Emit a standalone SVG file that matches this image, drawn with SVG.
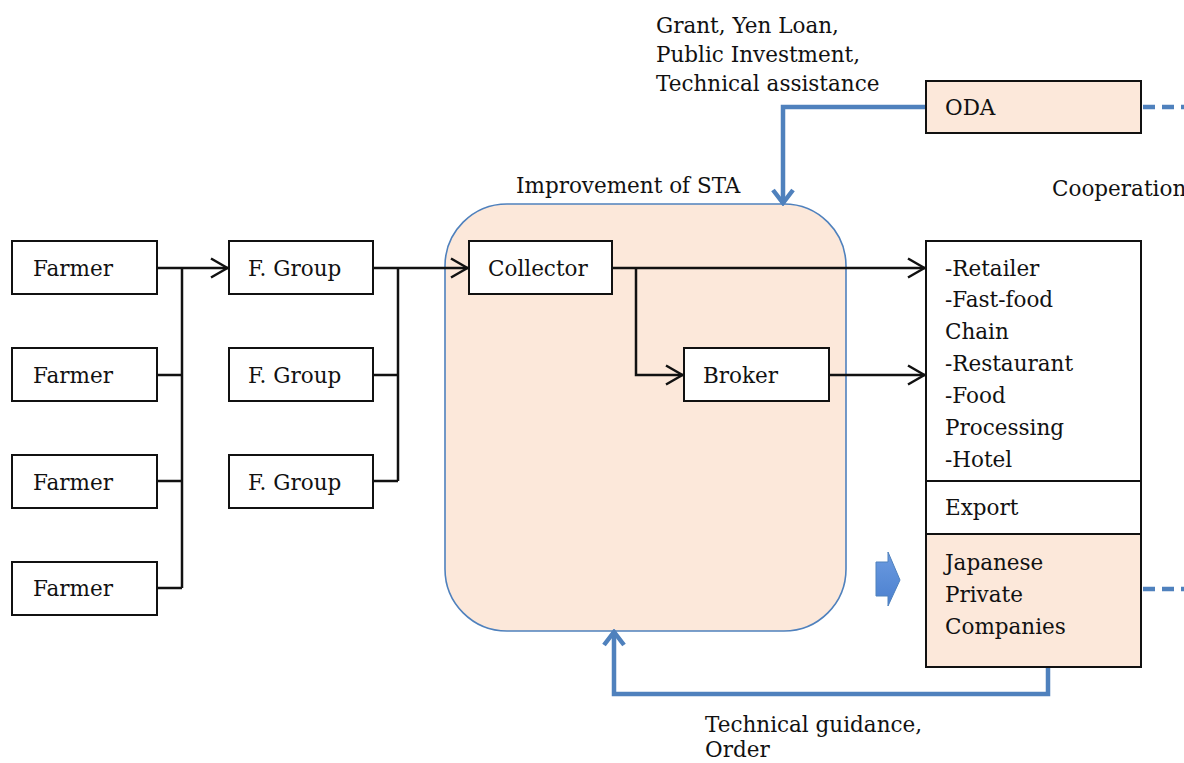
<svg xmlns="http://www.w3.org/2000/svg" width="1184" height="763" viewBox="0 0 1184 763">
  <defs>
    <style>
      text { font-family: "DejaVu Serif", "Liberation Serif", serif; font-size: 21.5px; fill: #111; }
      .box { fill: #fff; stroke: #111; stroke-width: 2; }
      .peach { fill: #fce8da; stroke: #111; stroke-width: 2; }
      .flow { fill: none; stroke: #111; stroke-width: 2.5; }
      .blue { fill: none; stroke: #4f81bd; stroke-width: 4.5; }
      .dash { fill: none; stroke: #4f81bd; stroke-width: 4.5; stroke-dasharray: 12 7; }
    </style>
    <marker id="open" viewBox="0 0 20 22" refX="19" refY="11" markerWidth="20" markerHeight="22" markerUnits="userSpaceOnUse" orient="auto">
      <path d="M2,1.5 L18.5,11 L2,20.5" fill="none" stroke="#111" stroke-width="2.5"/>
    </marker>
    <marker id="blueHead" viewBox="0 0 20 24" refX="18" refY="12" markerWidth="20" markerHeight="24" markerUnits="userSpaceOnUse" orient="auto">
      <path d="M4,2 L17,12 L4,22" fill="none" stroke="#4f81bd" stroke-width="4.5"/>
    </marker>
    <linearGradient id="pointerFill" x1="0" y1="0" x2="0" y2="1">
      <stop offset="0" stop-color="#6c9be0"/>
      <stop offset="1" stop-color="#4a7fcf"/>
    </linearGradient>
  </defs>

  <!-- STA improvement zone -->
  <g id="sta">
    <rect x="445" y="204" width="401" height="427" rx="62" ry="62" fill="#fce8da" stroke="#4f81bd" stroke-width="1.6"/>
    <text x="516" y="193">Improvement of STA</text>
  </g>

  <!-- connectors -->
  <g id="connectors">
    <!-- farmers to first group -->
    <path class="flow" d="M157,268 H182 M157,375 H182 M157,481 H182 M157,588 H182 M182,268 V588"/>
    <path class="flow" d="M182,268 H228" marker-end="url(#open)"/>
    <!-- groups to collector -->
    <path class="flow" d="M373,268 H398 M373,375 H398 M373,481 H398 M398,268 V481"/>
    <path class="flow" d="M398,268 H468" marker-end="url(#open)"/>
    <!-- collector to market and broker -->
    <path class="flow" d="M612,268 H925" marker-end="url(#open)"/>
    <path class="flow" d="M636,268 V375 H683" marker-end="url(#open)"/>
    <path class="flow" d="M829,375 H925" marker-end="url(#open)"/>
    <!-- ODA support -->
    <path class="blue" d="M926,107 H783 V204" marker-end="url(#blueHead)"/>
    <!-- guidance and orders from companies -->
    <path class="blue" d="M1048,667 V694 H614 V631" marker-end="url(#blueHead)"/>
    <!-- cooperation links -->
    <path class="dash" d="M1143,107 H1184"/>
    <path class="dash" d="M1143,589 H1184"/>
  </g>

  <g id="farmer1"><rect class="box" x="12" y="241" width="145" height="53"/><text x="33" y="276">Farmer</text></g>
  <g id="farmer2"><rect class="box" x="12" y="348" width="145" height="53"/><text x="33" y="383">Farmer</text></g>
  <g id="farmer3"><rect class="box" x="12" y="455" width="145" height="53"/><text x="33" y="490">Farmer</text></g>
  <g id="farmer4"><rect class="box" x="12" y="562" width="145" height="53"/><text x="33" y="596">Farmer</text></g>

  <g id="group1"><rect class="box" x="229" y="241" width="144" height="53"/><text x="248" y="276">F. Group</text></g>
  <g id="group2"><rect class="box" x="229" y="348" width="144" height="53"/><text x="248" y="383">F. Group</text></g>
  <g id="group3"><rect class="box" x="229" y="455" width="144" height="53"/><text x="248" y="490">F. Group</text></g>

  <g id="collector"><rect class="box" x="469" y="241" width="143" height="53"/><text x="488" y="276">Collector</text></g>
  <g id="broker"><rect class="box" x="684" y="348" width="145" height="53"/><text x="703" y="383">Broker</text></g>

  <g id="oda">
    <rect class="peach" x="926" y="81" width="215" height="52"/>
    <text x="945" y="115">ODA</text>
    <text x="656" y="33">Grant, Yen Loan,</text>
    <text x="656" y="62">Public Investment,</text>
    <text x="656" y="91">Technical assistance</text>
  </g>

  <g id="cooperation"><text x="1052" y="196">Cooperation</text></g>

  <g id="market">
    <rect class="box" x="926" y="241" width="215" height="240"/>
    <text x="945" y="276">-Retailer</text>
    <text x="945" y="307">-Fast-food</text>
    <text x="945" y="339">Chain</text>
    <text x="945" y="371">-Restaurant</text>
    <text x="945" y="403">-Food</text>
    <text x="945" y="435">Processing</text>
    <text x="945" y="467">-Hotel</text>
  </g>

  <g id="export"><rect class="box" x="926" y="481" width="215" height="53"/><text x="945" y="515">Export</text></g>

  <g id="companies">
    <rect class="peach" x="926" y="534" width="215" height="133"/>
    <text x="945" y="570">Japanese</text>
    <text x="945" y="602">Private</text>
    <text x="945" y="634">Companies</text>
  </g>

  <!-- block arrow pointing at the companies -->
  <g id="pointer">
    <path d="M876,562 H888 V552 L900,580 L888,606 V596 H876 Z" fill="url(#pointerFill)" stroke="#4f81bd" stroke-width="1"/>
  </g>

  <g id="guidance">
    <text x="705" y="732">Technical guidance,</text>
    <text x="705" y="757">Order</text>
  </g>
</svg>
